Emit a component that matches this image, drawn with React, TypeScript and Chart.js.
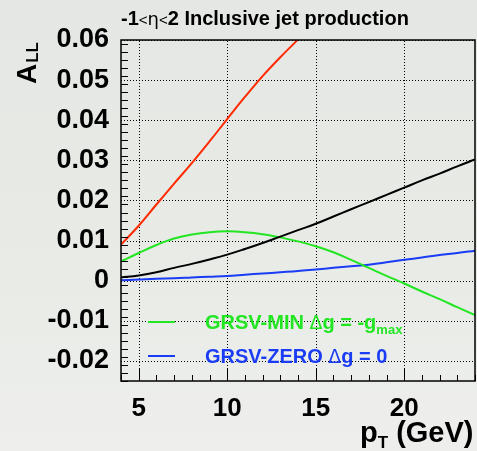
import React, { useEffect, useRef } from "react";
import { Chart, registerables } from "chart.js";

Chart.register(...registerables);

const ptValues = [4, 5, 6, 7, 8, 9, 10, 11, 12, 13, 14, 15, 16, 17, 18, 19, 20, 21, 22, 23, 24];
const grsvMax = [0.009, 0.0137, 0.019, 0.0242, 0.0293, 0.0347, 0.0403, 0.0458, 0.051, 0.0557, 0.0601, 0.0644, null, null, null, null, null, null, null, null, null];
const grsvStd = [0.0008, 0.0013, 0.0021, 0.0032, 0.0042, 0.0053, 0.0065, 0.0079, 0.0094, 0.011, 0.0126, 0.0142, 0.016, 0.0178, 0.0196, 0.0214, 0.0232, 0.025, 0.0267, 0.0285, 0.0302];
const grsvMin = [0.0048, 0.0069, 0.0089, 0.0105, 0.0115, 0.0121, 0.0123, 0.0121, 0.0116, 0.0108, 0.0098, 0.0086, 0.0071, 0.0052, 0.0032, 0.0012, -0.0007, -0.0027, -0.0046, -0.0066, -0.0086];
const grsvZero = [0.0001, 0.0003, 0.0005, 0.0006, 0.0008, 0.001, 0.0012, 0.0015, 0.0018, 0.0021, 0.0024, 0.0028, 0.0032, 0.0036, 0.004, 0.0046, 0.0052, 0.0058, 0.0064, 0.0069, 0.0075];

const xTicks = [5, 10, 15, 20];
const yTicks = [-0.02, -0.01, 0, 0.01, 0.02, 0.03, 0.04, 0.05, 0.06];
const xMinorStep = 1;
const yMinorStep = 0.002;

const RED = "#ff2a00";
const BLACK = "#000000";
const GREEN = "#22e622";
const BLUE = "#1a3cf5";
const FONT = "'Liberation Sans', Arial, Helvetica, sans-serif";

const toPoints = (ys: (number | null)[]) => ptValues.map((x, i) => ({ x, y: ys[i] }));

const decorPlugin = {
  id: "decor",
  beforeDraw(chart: any) {
    const { ctx, width, height } = chart;
    ctx.save();
    const g = ctx.createLinearGradient(0, 0, 0, height);
    g.addColorStop(0, "#e4e7e3");
    g.addColorStop(0.5, "#e7eae5");
    g.addColorStop(1, "#eeefed");
    ctx.fillStyle = g;
    ctx.fillRect(0, 0, width, height);
    ctx.restore();
  },
  beforeDatasetsDraw(chart: any) {
    const { ctx, chartArea } = chart;
    const xs = chart.scales.x;
    const ys = chart.scales.y;
    const { left, right, top, bottom } = chartArea;
    ctx.save();
    ctx.strokeStyle = "#000";
    ctx.lineWidth = 1;
    ctx.setLineDash([1, 2]);
    ctx.beginPath();
    for (const v of xTicks) {
      const x = Math.round(xs.getPixelForValue(v)) + 0.5;
      ctx.moveTo(x, bottom);
      ctx.lineTo(x, top);
    }
    for (const v of yTicks) {
      const y = Math.round(ys.getPixelForValue(v)) + 0.5;
      ctx.moveTo(left, y);
      ctx.lineTo(right, y);
    }
    ctx.stroke();
    ctx.restore();
  },
  afterDraw(chart: any) {
    const { ctx, chartArea } = chart;
    const xs = chart.scales.x;
    const ys = chart.scales.y;
    const { left, right, top, bottom } = chartArea;
    ctx.save();
    ctx.strokeStyle = "#000";
    ctx.lineWidth = 1;
    ctx.beginPath();
    for (let v = ys.min; v <= ys.max + 1e-9; v += yMinorStep) {
      const y = Math.round(ys.getPixelForValue(v)) + 0.5;
      const major = Math.abs(v / 0.01 - Math.round(v / 0.01)) < 1e-6;
      ctx.moveTo(left, y);
      ctx.lineTo(left + (major ? 12 : 7), y);
    }
    for (let v = xs.min; v <= xs.max + 1e-9; v += xMinorStep) {
      const x = Math.round(xs.getPixelForValue(v)) + 0.5;
      const major = v % 5 === 0;
      ctx.moveTo(x, bottom);
      ctx.lineTo(x, bottom - (major ? 12 : 6));
    }
    ctx.stroke();
    ctx.lineWidth = 1.5;
    ctx.strokeRect(left, top, right - left, bottom - top);

    // title
    ctx.fillStyle = "#000";
    ctx.textBaseline = "alphabetic";
    ctx.textAlign = "left";
    let tx = left;
    const ty = 25;
    const seg = (t: string, f: string, dy = 0) => {
      ctx.font = f;
      ctx.fillText(t, tx, ty + dy);
      tx += ctx.measureText(t).width;
    };
    seg("-1", `bold 20px ${FONT}`);
    seg("<", `15px ${FONT}`);
    seg("η", `18px 'DejaVu Sans', ${FONT}`);
    seg("<", `15px ${FONT}`);
    seg("2 Inclusive jet production", `bold 20px ${FONT}`);

    // y axis title
    ctx.save();
    ctx.translate(36, 84);
    ctx.rotate(-Math.PI / 2);
    ctx.font = `bold 28px ${FONT}`;
    ctx.fillText("A", 0, 0);
    const aw = ctx.measureText("A").width;
    ctx.font = `bold 17px ${FONT}`;
    ctx.fillText("LL", aw + 1, 2);
    ctx.restore();

    // x axis title
    let px = 360;
    const py = 442;
    ctx.font = `bold 29px ${FONT}`;
    ctx.fillText("p", px, py);
    px += ctx.measureText("p").width;
    ctx.font = `bold 17px ${FONT}`;
    ctx.fillText("T", px, py + 6);
    px += ctx.measureText("T").width;
    ctx.font = `bold 29px ${FONT}`;
    ctx.fillText(" (GeV)", px, py);

    // legend
    const entry = (color: string, ly: number, parts: [string, string, number][]) => {
      ctx.strokeStyle = color;
      ctx.lineWidth = 2;
      ctx.beginPath();
      ctx.moveTo(148, ly - 7);
      ctx.lineTo(175, ly - 7);
      ctx.stroke();
      ctx.fillStyle = color;
      let lx = 205;
      for (const [t, f, dy] of parts) {
        ctx.font = f;
        ctx.fillText(t, lx, ly + dy);
        lx += ctx.measureText(t).width;
      }
    };
    entry(GREEN, 329, [
      ["GRSV-MIN ", `bold 20px ${FONT}`, 0],
      ["Δ", `19px 'DejaVu Sans', ${FONT}`, 0],
      ["g = -g", `bold 20px ${FONT}`, 0],
      ["max", `bold 13px ${FONT}`, 5],
    ]);
    entry(BLUE, 363, [
      ["GRSV-ZERO ", `bold 20px ${FONT}`, 0],
      ["Δ", `19px 'DejaVu Sans', ${FONT}`, 0],
      ["g = 0", `bold 20px ${FONT}`, 0],
    ]);
    ctx.restore();
  },
};

export default function App() {
  const ref = useRef<HTMLCanvasElement | null>(null);
  useEffect(() => {
    document.body.style.margin = "0";
    document.body.style.overflow = "hidden";
    const canvas = ref.current;
    if (!canvas) return;
    const line = (data: (number | null)[], color: string) => ({
      data: toPoints(data),
      borderColor: color,
      backgroundColor: color,
      borderWidth: 2,
      pointRadius: 0,
      fill: false,
      tension: 0.4,
      spanGaps: false,
    });
    const chart = new Chart(canvas, {
      type: "line",
      data: {
        datasets: [
          line(grsvMax, RED),
          line(grsvStd, BLACK),
          line(grsvMin, GREEN),
          line(grsvZero, BLUE),
        ],
      },
      options: {
        animation: false,
        responsive: false,
        layout: { padding: { top: 40, right: 2, left: 0, bottom: 0 } },
        plugins: { legend: { display: false }, tooltip: { enabled: false }, title: { display: false } },
        scales: {
          x: {
            type: "linear",
            min: 4,
            max: 24,
            afterBuildTicks: (s: any) => {
              s.ticks = xTicks.map((v) => ({ value: v }));
            },
            afterFit: (s: any) => {
              s.height = 70;
            },
            grid: { display: false, drawTicks: false },
            border: { display: false },
            ticks: {
              color: "#000",
              padding: 12,
              font: { family: FONT, size: 26, weight: "bold" },
              maxRotation: 0,
            },
          },
          y: {
            type: "linear",
            min: -0.025,
            max: 0.06,
            afterBuildTicks: (s: any) => {
              s.ticks = yTicks.map((v) => ({ value: v }));
            },
            afterFit: (s: any) => {
              s.width = 121;
            },
            grid: { display: false, drawTicks: false },
            border: { display: false },
            ticks: {
              color: "#000",
              padding: 12,
              font: { family: FONT, size: 27, weight: "bold" },
              callback: (v: any) => (Math.abs(v) < 1e-9 ? "0" : Number(v).toFixed(2)),
            },
          },
        },
      },
      plugins: [decorPlugin],
    } as any);
    return () => chart.destroy();
  }, []);
  return (
    <div style={{ width: 477, height: 451 }}>
      <canvas ref={ref} width={477} height={451} />
    </div>
  );
}
